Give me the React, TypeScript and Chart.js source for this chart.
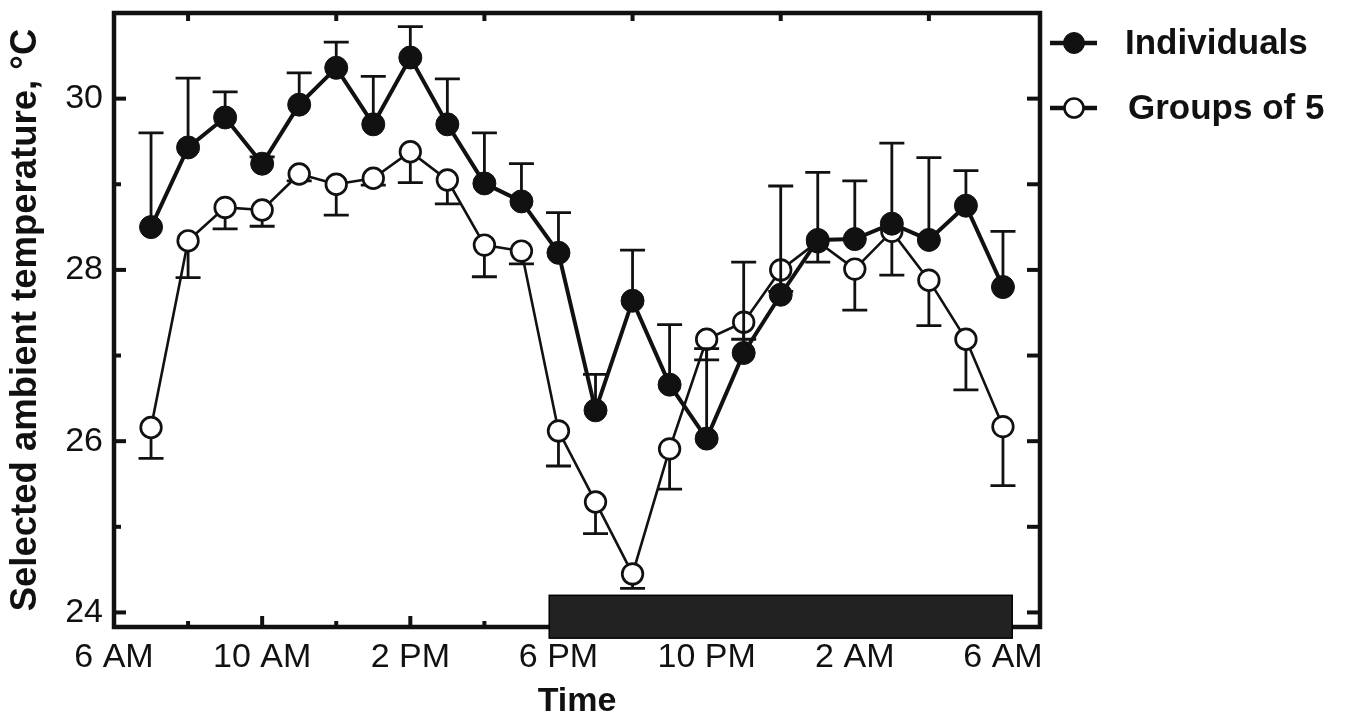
import React, { useEffect, useRef } from 'react';
import { Chart, registerables } from 'chart.js';

Chart.register(...registerables);

// Hours after 6 AM (1 = 7 AM ... 24 = 6 AM next day)
const hours = [1, 2, 3, 4, 5, 6, 7, 8, 9, 10, 11, 12, 13, 14, 15, 16, 17, 18, 19, 20, 21, 22, 23, 24];

const individuals = [28.5, 29.43, 29.78, 29.24, 29.93, 30.36, 29.7, 30.48, 29.7, 29.01, 28.8, 28.2,
  26.36, 27.64, 26.66, 26.03, 27.03, 27.71, 28.35, 28.36, 28.54, 28.35, 28.75, 27.8];
const individualsSem = [1.1, 0.81, 0.3, 0.08, 0.37, 0.3, 0.56, 0.36, 0.53, 0.59, 0.44, 0.47,
  0.42, 0.59, 0.7, 1.05, 1.06, 1.27, 0.79, 0.68, 0.94, 0.96, 0.41, 0.65];

const groups = [26.16, 28.34, 28.73, 28.7, 29.12, 29.0, 29.07, 29.38, 29.05, 28.29, 28.22, 26.12,
  25.29, 24.45, 25.91, 27.19, 27.39, 28.0, 28.33, 28.01, 28.45, 27.88, 27.19, 26.17];
const groupsSem = [0.36, 0.43, 0.25, 0.19, 0.08, 0.36, 0.08, 0.36, 0.28, 0.37, 0.15, 0.41,
  0.37, 0.17, 0.47, 0.24, 0.2, 0.25, 0.24, 0.48, 0.51, 0.53, 0.59, 0.69];

const seriesLabels = ['Individuals', 'Groups of 5'];

const xTickHours = [0, 4, 8, 12, 16, 20, 24];
const xTickLabels = ['6 AM', '10 AM', '2 PM', '6 PM', '10 PM', '2 AM', '6 AM'];
const xMinorTop = [2, 6, 10, 14, 18, 22];
const xMinorBottom = [2, 6, 10, 14, 18, 22];
const yTicks = [24, 26, 28, 30];
const yMinor = [25, 27, 29];
const yRightTicks = [24, 25, 26, 27, 28, 29, 30];

// Dark period (hours after 6 AM) and its vertical extent (°C)
const darkPeriod = [11.75, 24.25];
const darkBand = [23.7, 24.2];

const FONT = '"Liberation Sans", Arial, Helvetica, sans-serif';
const INK = '#111';

const errorInfo = [
  { sem: individualsSem, dir: 1 },
  { sem: groupsSem, dir: -1 },
];

const decorPlugin = {
  id: 'decor',
  beforeDatasetDraw(chart: any, args: any) {
    const info = errorInfo[args.index];
    if (!info) return;
    const ctx = chart.ctx;
    const xs = chart.scales.x;
    const ys = chart.scales.y;
    const data = chart.data.datasets[args.index].data as any[];
    ctx.save();
    ctx.strokeStyle = INK;
    ctx.lineWidth = 2.8;
    ctx.lineCap = 'butt';
    data.forEach((p: any, i: number) => {
      const px = xs.getPixelForValue(p.x);
      const py0 = ys.getPixelForValue(p.y);
      const py1 = ys.getPixelForValue(p.y + info.dir * info.sem[i]);
      ctx.beginPath();
      ctx.moveTo(px, py0);
      ctx.lineTo(px, py1);
      ctx.moveTo(px - 12.5, py1);
      ctx.lineTo(px + 12.5, py1);
      ctx.stroke();
    });
    ctx.restore();
  },
  afterDraw(chart: any) {
    const ctx = chart.ctx;
    const { left, right, top, bottom } = chart.chartArea;
    const xs = chart.scales.x;
    const ys = chart.scales.y;
    ctx.save();
    ctx.strokeStyle = INK;
    ctx.fillStyle = INK;
    ctx.lineWidth = 4.5;
    ctx.lineCap = 'butt';
    // box
    ctx.beginPath();
    ctx.rect(left, top, right - left, bottom - top);
    ctx.stroke();
    // ticks
    ctx.lineWidth = 4;
    const seg = (x1: number, y1: number, x2: number, y2: number) => {
      ctx.beginPath();
      ctx.moveTo(x1, y1);
      ctx.lineTo(x2, y2);
      ctx.stroke();
    };
    yTicks.forEach(v => { const y = ys.getPixelForValue(v); seg(left, y, left + 12, y); });
    yMinor.forEach(v => { const y = ys.getPixelForValue(v); seg(left, y, left + 7, y); });
    yRightTicks.forEach(v => { const y = ys.getPixelForValue(v); seg(right, y, right - 13, y); });
    xTickHours.forEach(v => { const x = xs.getPixelForValue(v); seg(x, bottom, x, bottom - 11); });
    xMinorBottom.forEach(v => { const x = xs.getPixelForValue(v); seg(x, bottom, x, bottom - 6); });
    xMinorTop.forEach(v => { const x = xs.getPixelForValue(v); seg(x, top, x, top + 8); });
    // dark period bar
    const bx0 = xs.getPixelForValue(darkPeriod[0]);
    const bx1 = xs.getPixelForValue(darkPeriod[1]);
    const by0 = ys.getPixelForValue(darkBand[1]);
    const by1 = ys.getPixelForValue(darkBand[0]);
    ctx.fillStyle = '#222';
    ctx.fillRect(bx0, by0, bx1 - bx0, by1 - by0);
    ctx.lineWidth = 1.5;
    ctx.strokeStyle = '#000';
    ctx.strokeRect(bx0, by0, bx1 - bx0, by1 - by0);
    // legend
    const items = [
      { label: chart.data.datasets[0].label, filled: true, y: 43 },
      { label: chart.data.datasets[1].label, filled: false, y: 108 },
    ];
    items.forEach(it => {
      ctx.strokeStyle = INK;
      ctx.lineWidth = 4.5;
      seg(1050, it.y, 1097, it.y);
      ctx.beginPath();
      ctx.arc(1074, it.y, it.filled ? 10.5 : 9.5, 0, Math.PI * 2);
      ctx.fillStyle = it.filled ? INK : '#fff';
      ctx.fill();
      ctx.lineWidth = it.filled ? 1 : 2.6;
      ctx.stroke();
      ctx.fillStyle = INK;
      ctx.font = `bold 35px ${FONT}`;
      ctx.textAlign = 'left';
      ctx.textBaseline = 'middle';
      ctx.fillText(it.label, it.filled ? 1125 : 1128, it.y + 1);
    });
    ctx.restore();
  },
};

export default function App() {
  const ref = useRef<HTMLCanvasElement | null>(null);
  useEffect(() => {
    if (!ref.current) return;
    const chart = new Chart(ref.current, {
      type: 'line',
      data: {
        datasets: [
          {
            label: seriesLabels[0],
            data: hours.map((h, i) => ({ x: h, y: individuals[i] })),
            borderColor: INK,
            borderWidth: 4,
            pointRadius: 11.5,
            pointBackgroundColor: INK,
            pointBorderColor: INK,
            pointBorderWidth: 1,
            tension: 0,
            clip: false as any,
          },
          {
            label: seriesLabels[1],
            data: hours.map((h, i) => ({ x: h, y: groups[i] })),
            borderColor: INK,
            borderWidth: 2.6,
            pointRadius: 10.3,
            pointBackgroundColor: '#fff',
            pointBorderColor: INK,
            pointBorderWidth: 2.7,
            tension: 0,
            clip: false as any,
          },
        ],
      },
      options: {
        responsive: false,
        animation: false,
        layout: { padding: { left: 0, right: 311, top: 11, bottom: 0 } },
        plugins: { legend: { display: false }, tooltip: { enabled: false } },
        scales: {
          x: {
            type: 'linear',
            min: 0,
            max: 25,
            grid: { display: false, drawTicks: false },
            border: { display: false },
            afterBuildTicks: (s: any) => { s.ticks = xTickHours.map(v => ({ value: v })); },
            afterFit: (s: any) => { s.height = 95; s.paddingLeft = 0; s.paddingRight = 0; },
            ticks: {
              padding: 10,
              color: INK,
              font: { family: FONT, size: 34 },
              maxRotation: 0,
              autoSkip: false,
              callback: (v: any) => {
                const i = xTickHours.indexOf(Number(v));
                return i >= 0 ? xTickLabels[i] : '';
              },
            },
            title: {
              display: true,
              text: 'Time',
              color: INK,
              font: { family: FONT, size: 34, weight: 'bold' },
              padding: { top: 0, bottom: 0 },
            },
          },
          y: {
            type: 'linear',
            min: 23.83,
            max: 31.0,
            grid: { display: false, drawTicks: false },
            border: { display: false },
            afterBuildTicks: (s: any) => { s.ticks = yTicks.map(v => ({ value: v })); },
            afterFit: (s: any) => { s.width = 114; s.paddingTop = 0; s.paddingBottom = 0; },
            ticks: {
              padding: 11,
              color: INK,
              font: { family: FONT, size: 34 },
              callback: (v: any) => String(v),
            },
            title: {
              display: true,
              text: 'Selected ambient temperature, °C',
              color: INK,
              font: { family: FONT, size: 36.5, weight: 'bold' },
              padding: { top: 4, bottom: 0 },
            },
          },
        },
      },
      plugins: [decorPlugin],
    } as any);
    return () => chart.destroy();
  }, []);
  return (
    <div style={{ position: 'fixed', left: 0, top: 0, width: 1351, height: 722, background: '#fff' }}>
      <canvas ref={ref} width={1351} height={722} style={{ display: 'block' }} />
    </div>
  );
}
